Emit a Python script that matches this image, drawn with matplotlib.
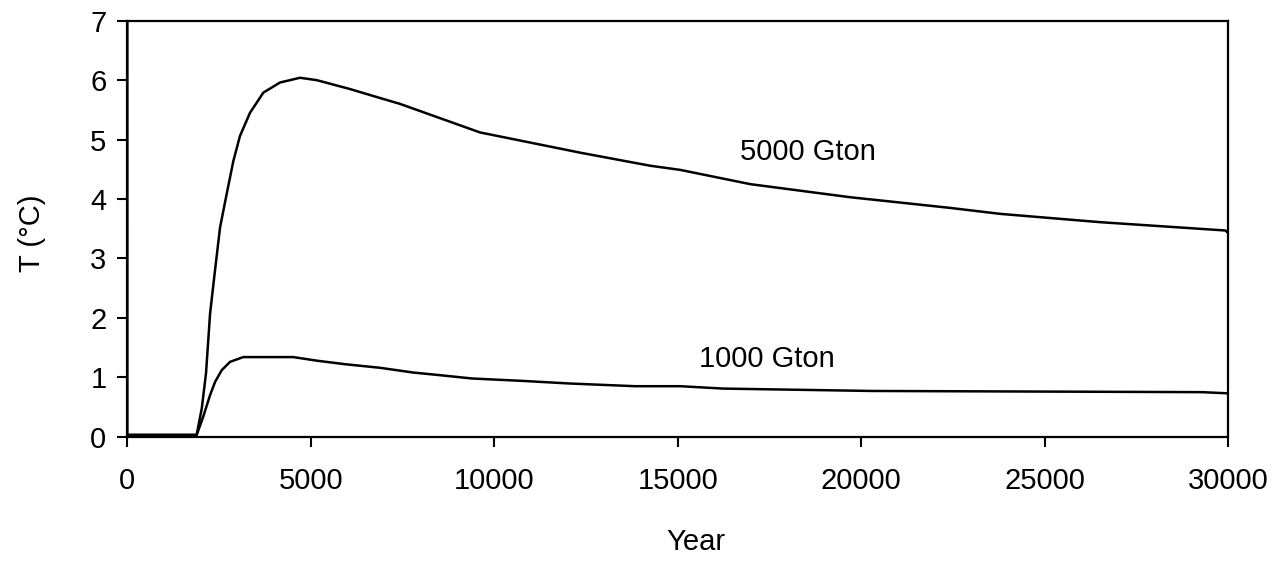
import matplotlib.pyplot as plt

plt.rcParams['font.family'] = ['Liberation Sans', 'DejaVu Sans']

# 5000 Gton pulse: year, temperature
years_5000 = [0, 1, 1890, 2030, 2145, 2255, 2390, 2527, 2690, 2890, 3070, 3343,
              3707, 4160, 4706, 5163, 6070, 6885, 7434, 9615, 12340, 14250,
              15070, 16980, 19700, 21070, 22430, 23790, 26520, 29930, 30000]
temp_5000 = [7.6, 0.03, 0.03, 0.48, 1.07, 2.07, 2.80, 3.52, 4.03, 4.64, 5.06, 5.45,
             5.79, 5.96, 6.04, 6.00, 5.85, 5.70, 5.60, 5.12, 4.78, 4.56,
             4.49, 4.25, 4.03, 3.94, 3.85, 3.75, 3.61, 3.47, 3.43]

# 1000 Gton pulse
years_1000 = [0, 1890, 2070, 2255, 2390, 2573, 2800, 3160, 4525, 5160, 5935,
              6885, 7790, 8530, 9390, 10750, 12070, 13840, 15070, 16240, 20290,
              29290, 30000]
temp_1000 = [0.03, 0.03, 0.34, 0.70, 0.92, 1.12, 1.26, 1.34, 1.34, 1.28, 1.22,
             1.16, 1.08, 1.035, 0.98, 0.94, 0.895, 0.85, 0.85, 0.81, 0.77,
             0.75, 0.73]

fig = plt.figure(figsize=(12.81, 5.63), dpi=100)
ax = fig.add_axes([0.0994, 0.2243, 0.8592, 0.7389])

ax.plot(years_5000, temp_5000, color='black', lw=1.8)
ax.plot(years_1000, temp_1000, color='black', lw=1.8)

ax.text(18540, 4.79, '5000 Gton', fontsize=21, ha='center', va='center')
ax.text(17440, 1.30, '1000 Gton', fontsize=21, ha='center', va='center')

ax.set_xlim(0, 30000)
ax.set_ylim(0, 7)
ax.set_xticks(range(0, 30001, 5000))
ax.set_yticks(range(0, 8))

for s in ax.spines.values():
    s.set_linewidth(1.6)

ax.tick_params(axis='x', direction='out', length=7, width=1.5, labelsize=21, pad=15)
ax.tick_params(axis='y', direction='out', length=7, width=1.5, labelsize=21, pad=8)

ax.set_xlabel('Year', fontsize=21)
ax.set_ylabel('T (°C)', fontsize=21)
ax.xaxis.set_label_coords(0.5167, -0.253)
ax.yaxis.set_label_coords(-0.0866, 0.49)
ax.xaxis.label.set_va('center')
ax.yaxis.label.set_va('center')

fig.savefig('out.png', dpi=100)
